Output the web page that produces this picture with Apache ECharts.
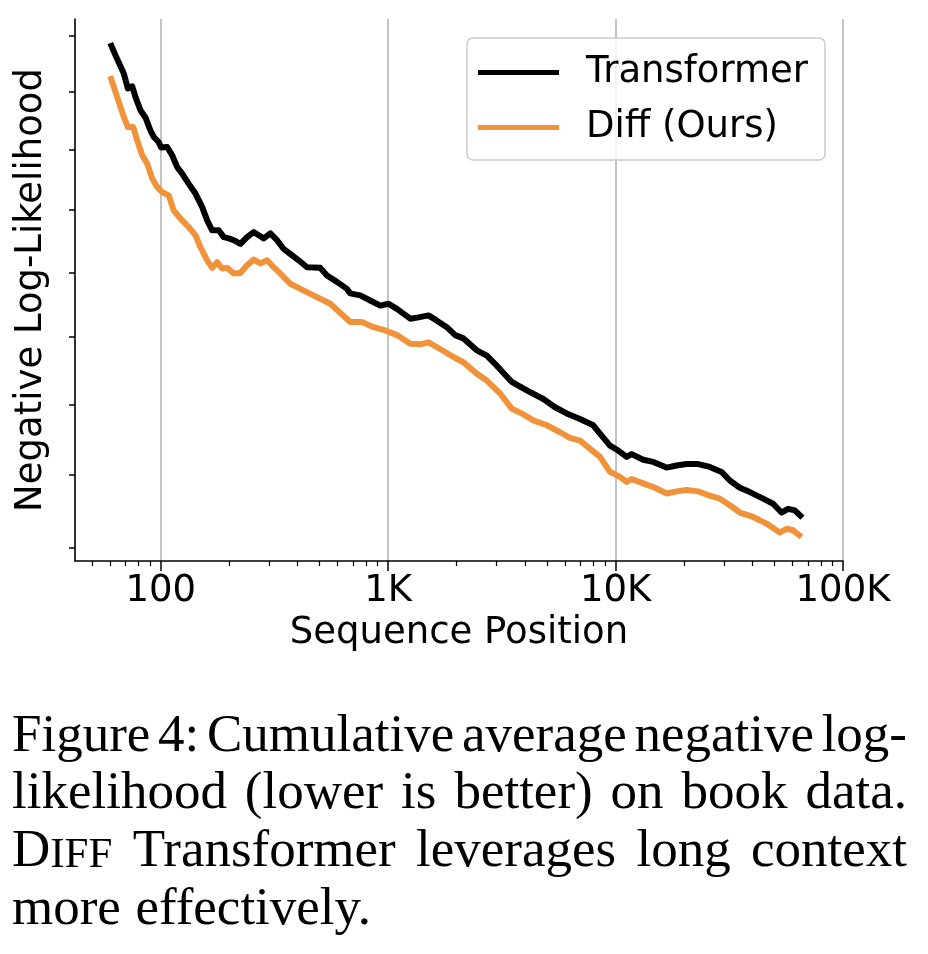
<!DOCTYPE html>
<html>
<head>
<meta charset="utf-8">
<script src="https://cdn.jsdelivr.net/npm/echarts@6/dist/echarts.min.js"></script>
<style>
html,body{margin:0;padding:0;background:#fff;}
#chart{width:928px;height:954px;}
</style>
</head>
<body>
<div id="chart"></div>
<script>
// ---- Data ----
const seriesNames = ['Transformer', 'Diff (Ours)'];

const transformerX = [60, 63.3, 68.9, 71.7, 75.0, 77.5, 81.5, 85.8, 90.2, 93.3, 98.1, 100.5, 106.8, 112.3, 118.2, 124.3, 132.9, 142.2, 152.1, 160.1, 168.4, 179.9, 189.3, 199.2, 209.5, 224.1, 239.8, 256.4, 269.7, 283.7, 303.5, 324.8, 347.3, 371.6, 404.2, 440.0, 503.2, 538.5, 595.8, 659.2, 681.6, 754.2, 834.4, 923.2, 1004, 1093, 1251, 1360, 1505, 1638, 1812, 1971, 2144, 2455, 2716, 3005, 3497, 3804, 4209, 4814, 5418, 6099, 6977, 7982, 8541, 9450, 10277, 11188, 11768, 13232, 14640, 16767, 18552, 20526, 23087, 25976, 29236, 31804, 35194, 38940, 44540, 49282, 53651, 57347, 61370, 66320];
const transformerNLL = [2.987, 2.965, 2.932, 2.906, 2.910, 2.891, 2.868, 2.855, 2.833, 2.822, 2.813, 2.804, 2.805, 2.791, 2.771, 2.760, 2.743, 2.727, 2.705, 2.683, 2.667, 2.667, 2.656, 2.654, 2.651, 2.645, 2.656, 2.664, 2.659, 2.654, 2.662, 2.651, 2.637, 2.629, 2.619, 2.608, 2.607, 2.595, 2.585, 2.574, 2.567, 2.564, 2.556, 2.548, 2.551, 2.543, 2.528, 2.530, 2.533, 2.525, 2.515, 2.503, 2.498, 2.480, 2.472, 2.457, 2.433, 2.426, 2.418, 2.408, 2.396, 2.387, 2.379, 2.370, 2.358, 2.341, 2.334, 2.325, 2.329, 2.321, 2.318, 2.310, 2.313, 2.315, 2.315, 2.311, 2.304, 2.292, 2.282, 2.276, 2.267, 2.260, 2.248, 2.253, 2.251, 2.241];

const diffX = [60, 64.4, 68.9, 71.7, 75.7, 78.9, 82.9, 87.2, 91.8, 96.5, 101.5, 108.5, 114.2, 122.2, 132.9, 142.2, 149.5, 160.1, 168.4, 177.0, 186.2, 196.0, 209.5, 224.1, 239.8, 256.4, 274.4, 293.6, 313.9, 341.7, 371.6, 411.2, 556.8, 681.6, 767.3, 862.7, 971.1, 1093, 1251, 1383, 1505, 1693, 1938, 2144, 2455, 2716, 3107, 3497, 3870, 4351, 4983, 5698, 6303, 6977, 8541, 9450, 10455, 11188, 11768, 13232, 14894, 16767, 18552, 20526, 23087, 25976, 28737, 31804, 35194, 40261, 46097, 52723, 56428, 60325, 65653];
const diffNLL = [2.928, 2.891, 2.856, 2.839, 2.839, 2.816, 2.791, 2.777, 2.752, 2.738, 2.729, 2.724, 2.699, 2.686, 2.672, 2.659, 2.640, 2.619, 2.607, 2.616, 2.606, 2.607, 2.598, 2.599, 2.611, 2.620, 2.614, 2.619, 2.608, 2.595, 2.582, 2.574, 2.551, 2.523, 2.523, 2.515, 2.510, 2.503, 2.490, 2.489, 2.492, 2.482, 2.470, 2.462, 2.445, 2.435, 2.416, 2.394, 2.387, 2.377, 2.370, 2.360, 2.352, 2.348, 2.325, 2.304, 2.297, 2.290, 2.294, 2.288, 2.282, 2.274, 2.277, 2.279, 2.277, 2.271, 2.267, 2.258, 2.248, 2.242, 2.233, 2.221, 2.226, 2.224, 2.215];

const xMajorTicks = [100, 1000, 10000, 100000];
const xTickLabels = ['100', '1K', '10K', '100K'];
const xMinorTicks = [50, 60, 70, 80, 90, 200, 300, 400, 500, 600, 700, 800, 900, 2000, 3000, 4000, 5000, 6000, 7000, 8000, 9000, 20000, 30000, 40000, 50000, 60000, 70000, 80000, 90000];
const yTicks = [2.2, 2.3, 2.4, 2.5, 2.6, 2.7, 2.8, 2.9, 3.0];

const xTitle = 'Sequence Position';
const yTitle = 'Negative Log-Likelihood';
const captionLines = [
  {words: ['Figure', '4:', 'Cumulative', 'average', 'negative', 'log-'], justify: true},
  {words: ['likelihood', '(lower', 'is', 'better)', 'on', 'book', 'data.'], justify: true},
  {words: [['D', 'IFF'], 'Transformer', 'leverages', 'long', 'context'], justify: true},
  {words: ['more', 'effectively.'], justify: false}
];

// ---- Build ----
const SANS = '"DejaVu Sans"';
const SERIF = '"Liberation Serif"';
const BLACK = '#000000';
const ORANGE = '#F0923A';
const FS = 37;

function pairs(xs, ys) { return xs.map((x, i) => [x, ys[i]]); }

function labelFor(v) {
  let best = 0, bd = Infinity;
  xMajorTicks.forEach((t, i) => {
    const d = Math.abs(Math.log10(v) - Math.log10(t));
    if (d < bd) { bd = d; best = i; }
  });
  return xTickLabels[best];
}

// caption layout with justification
const capSize = 53, smallCapSize = 43;
const capLeft = 12, capRight = 907;
const baselines = [755, 812, 870, 928];
const mctx = document.createElement('canvas').getContext('2d');
function mw(t, size) { mctx.font = size + 'px ' + SERIF; return mctx.measureText(t).width; }
const graphics = [];
function addText(t, x, base, size) {
  graphics.push({type: 'text', x: x, y: base - 0.3375 * size,
    style: {text: t, font: size + 'px ' + SERIF, fill: '#000', verticalAlign: 'middle', align: 'left'}});
}
captionLines.forEach((line, li) => {
  const widths = line.words.map(w => Array.isArray(w) ? mw(w[0], capSize) + mw(w[1], smallCapSize) : mw(w, capSize));
  const total = widths.reduce((a, b) => a + b, 0);
  const gap = line.justify ? (capRight - capLeft - total) / (line.words.length - 1) : mw(' ', capSize) * 1.1;
  let x = capLeft;
  const base = baselines[li];
  line.words.forEach((w, wi) => {
    if (Array.isArray(w)) {
      addText(w[0], x, base, capSize);
      addText(w[1], x + mw(w[0], capSize), base, smallCapSize);
    } else {
      addText(w, x, base, capSize);
    }
    x += widths[wi] + gap;
  });
});

const chart = echarts.init(document.getElementById('chart'), null, {renderer: 'canvas'});
chart.setOption({
  animation: false,
  backgroundColor: '#ffffff',
  grid: {left: 75, top: 19, width: 768, height: 542, containLabel: false},
  legend: {
    orient: 'vertical', left: 467, top: 38,
    data: seriesNames,
    icon: 'rect', itemWidth: 81, itemHeight: 5, itemGap: 18,
    padding: [16, 17, 14, 11],
    borderColor: '#cccccc', borderWidth: 1.5, borderRadius: 6,
    backgroundColor: 'rgba(255,255,255,0.8)',
    selectedMode: false,
    textStyle: {fontFamily: SANS, fontSize: FS, color: '#000', padding: [0, 0, 0, 22]}
  },
  xAxis: [
    {
      type: 'log', logBase: 10, min: 42, max: 100000, position: 'bottom',
      axisLine: {show: true, lineStyle: {color: BLACK, width: 1.6}},
      axisTick: {show: true, customValues: xMajorTicks, length: 10, lineStyle: {color: BLACK, width: 1.5}},
      axisLabel: {show: true, customValues: xMajorTicks, formatter: v => labelFor(v), fontFamily: SANS, fontSize: FS, color: BLACK, margin: 12},
      splitLine: {show: true, lineStyle: {color: '#b0b0b0', width: 1.5}},
      minorTick: {show: false}, minorSplitLine: {show: false},
      name: xTitle, nameLocation: 'middle', nameGap: 54,
      nameTextStyle: {fontFamily: SANS, fontSize: FS, color: BLACK}
    },
    {
      type: 'log', logBase: 10, min: 42, max: 100000, position: 'bottom',
      axisLine: {show: false},
      axisTick: {show: true, customValues: xMinorTicks, length: 5, lineStyle: {color: BLACK, width: 1.2}},
      axisLabel: {show: false},
      splitLine: {show: false}
    }
  ],
  yAxis: {
    type: 'log', logBase: 10, min: 2.183, max: 3.031,
    axisLine: {show: true, lineStyle: {color: BLACK, width: 1.6}},
    axisTick: {show: true, customValues: yTicks, length: 6, lineStyle: {color: BLACK, width: 1.5}},
    axisLabel: {show: false},
    splitLine: {show: false},
    name: yTitle, nameLocation: 'middle', nameGap: 25, nameRotate: 90,
    nameTextStyle: {fontFamily: SANS, fontSize: FS, color: BLACK}
  },
  series: [
    {
      name: seriesNames[0], type: 'line', xAxisIndex: 0, yAxisIndex: 0,
      data: pairs(transformerX, transformerNLL),
      showSymbol: false, symbol: 'none', smooth: false,
      itemStyle: {color: BLACK},
      lineStyle: {color: BLACK, width: 6, join: 'round', cap: 'butt'},
      z: 3
    },
    {
      name: seriesNames[1], type: 'line', xAxisIndex: 0, yAxisIndex: 0,
      data: pairs(diffX, diffNLL),
      showSymbol: false, symbol: 'none', smooth: false,
      itemStyle: {color: ORANGE},
      lineStyle: {color: ORANGE, width: 6, join: 'round', cap: 'butt'},
      z: 3
    }
  ],
  graphic: graphics
});
</script>
</body>
</html>
